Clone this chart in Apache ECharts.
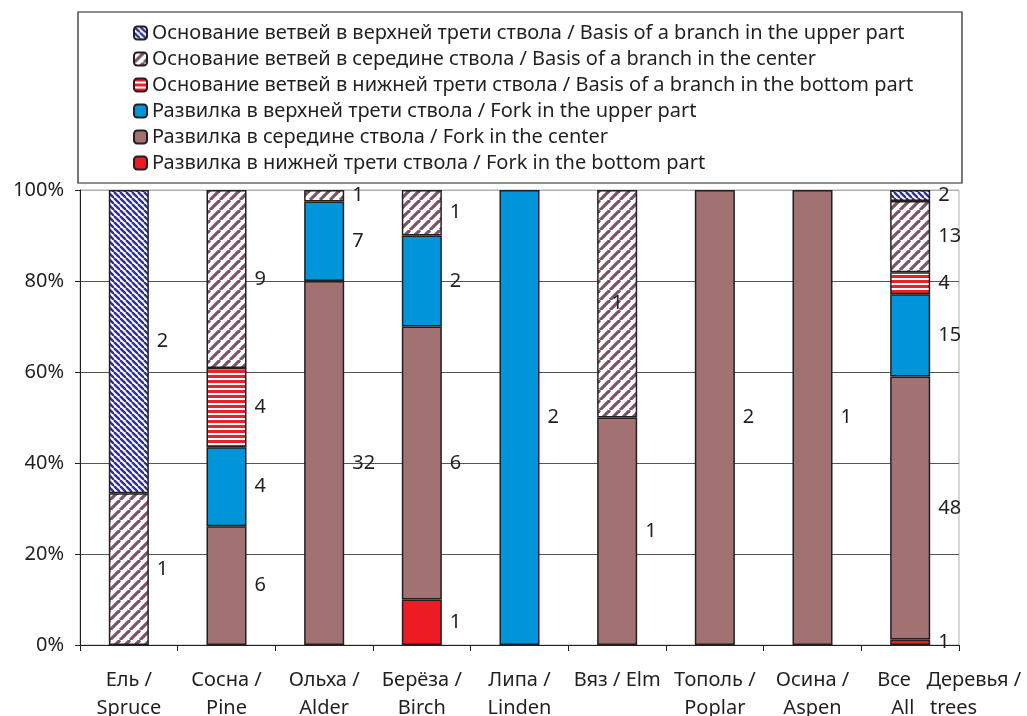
<!DOCTYPE html>
<html><head><meta charset="utf-8">
<script src="https://cdn.jsdelivr.net/npm/echarts@6/dist/echarts.min.js"></script>
<style>html,body{margin:0;padding:0;background:#fff}#c{width:1027px;height:716px}</style>
</head><body><div id="c"></div>
<script>
// ---- data ----
const categories = ['Ель /\nSpruce','Сосна /\nPine','Ольха /\nAlder','Берёза /\nBirch','Липа /\nLinden','Вяз / Elm','Тополь /\nPoplar','Осина /\nAspen','Все Деревья /\nAll trees'];
const nameBasisUpper  = 'Основание ветвей в верхней трети ствола / Basis of a branch in the upper part';
const nameBasisCenter = 'Основание ветвей в середине ствола / Basis of a branch in the center';
const nameBasisBottom = 'Основание ветвей в нижней трети ствола / Basis of a branch in the bottom part';
const nameForkUpper   = 'Развилка в верхней трети ствола / Fork in the upper part';
const nameForkCenter  = 'Развилка в середине ствола / Fork in the center';
const nameForkBottom  = 'Развилка в нижней трети ствола / Fork in the bottom part';
const forkBottom  = [0,0,0,1,0,0,0,0,1];
const forkCenter  = [0,6,32,6,0,1,2,1,48];
const forkUpper   = [0,4,7,2,2,0,0,0,15];
const basisBottom = [0,4,0,0,0,0,0,0,4];
const basisCenter = [1,9,1,1,0,1,0,0,13];
const basisUpper  = [2,0,0,0,0,0,0,0,2];
const yTicks = [0,20,40,60,80,100];

// ---- patterns ----
function pat(w,h,draw){const c=document.createElement('canvas');c.width=w;c.height=h;const g=c.getContext('2d');g.fillStyle='#fff';g.fillRect(0,0,w,h);draw(g,w,h);return {image:c,repeat:'repeat'};}
const patUpper = pat(6,6,(g,w,h)=>{g.strokeStyle='#2e3192';g.lineWidth=2.4;for(let k=-1;k<=1;k++){g.beginPath();g.moveTo(k*w,0);g.lineTo(k*w+w,h);g.stroke();}});
const patCenter = pat(10,10,(g,w,h)=>{g.strokeStyle='#7b5566';g.lineWidth=3.2;for(let k=-1;k<=1;k++){g.beginPath();g.moveTo(k*w,h);g.lineTo(k*w+w,0);g.stroke();}});
const patBottom = pat(8,5,(g,w,h)=>{g.fillStyle='#e8202a';g.fillRect(0,0,w,3);});

const totals = categories.map((_,i)=>forkBottom[i]+forkCenter[i]+forkUpper[i]+basisBottom[i]+basisCenter[i]+basisUpper[i]);
const FONT = 'Noto Sans';
const FS = 20;

function mk(name, arr, color, inside){
  return {
    name, type:'bar', stack:'all', barWidth:'41%',
    itemStyle:{color, borderColor:'#231f20', borderWidth:1.5},
    label:{show:true, position:'right', distance:8, color:'#231f20', fontSize:FS, fontFamily:FONT,
      formatter:p=>String(arr[p.dataIndex])},
    emphasis:{disabled:true},
    data: arr.map((v,i)=> v>0 ? (inside && inside.includes(i) ? {value:v/totals[i]*100, label:{position:'inside'}} : v/totals[i]*100) : '-')
  };
}

const chart = echarts.init(document.getElementById('c'));
chart.setOption({
  animation:false,
  textStyle:{fontFamily:FONT},
  graphic:[{type:'rect', shape:{x:78,y:12,width:884,height:171}, style:{fill:'none', stroke:'#231f20', lineWidth:1.2}, z:0}],
  legend:{
    orient:'vertical', left:128, top:17, itemWidth:13, itemHeight:13, itemGap:4,
    textStyle:{fontSize:FS, color:'#231f20', fontFamily:FONT, lineHeight:22},
    data:[nameBasisUpper,nameBasisCenter,nameBasisBottom,nameForkUpper,nameForkCenter,nameForkBottom],
    selectedMode:false
  },
  grid:{left:80, right:68, top:190, bottom:71, outerBoundsMode:'none', containLabel:false, show:true, borderColor:'#b0b0b0', borderWidth:1},
  xAxis:{type:'category', data:categories,
    axisLine:{lineStyle:{color:'#231f20', width:1}},
    axisTick:{show:true, length:6, lineStyle:{color:'#231f20'}},
    axisLabel:{fontSize:FS, color:'#231f20', fontFamily:FONT, lineHeight:28, margin:21, interval:0,
      formatter:(v,i)=> i===categories.length-1 ? '{a|Все   Деревья /}\n{b|All   trees}' : v,
      rich:{a:{fontSize:FS, lineHeight:28, color:'#231f20', fontFamily:FONT, padding:[0,0,0,78]},
            b:{fontSize:FS, lineHeight:28, color:'#231f20', fontFamily:FONT, padding:[0,0,0,48]}}}
  },
  yAxis:{type:'value', min:0, max:100, interval:20,
    axisLine:{show:true, lineStyle:{color:'#231f20'}},
    axisTick:{show:true, length:5, lineStyle:{color:'#231f20'}},
    axisLabel:{fontSize:FS, color:'#231f20', fontFamily:FONT, formatter:'{value}%', margin:16},
    splitLine:{lineStyle:{color:['#231f20','#555','#555','#555','#555','#b0b0b0'], width:1}}
  },
  series:[
    mk(nameForkBottom, forkBottom, '#ed1c24'),
    mk(nameForkCenter, forkCenter, '#a27172'),
    mk(nameForkUpper, forkUpper, '#0095da'),
    mk(nameBasisBottom, basisBottom, patBottom),
    mk(nameBasisCenter, basisCenter, patCenter, [5]),
    mk(nameBasisUpper, basisUpper, patUpper)
  ]
});
</script></body></html>
